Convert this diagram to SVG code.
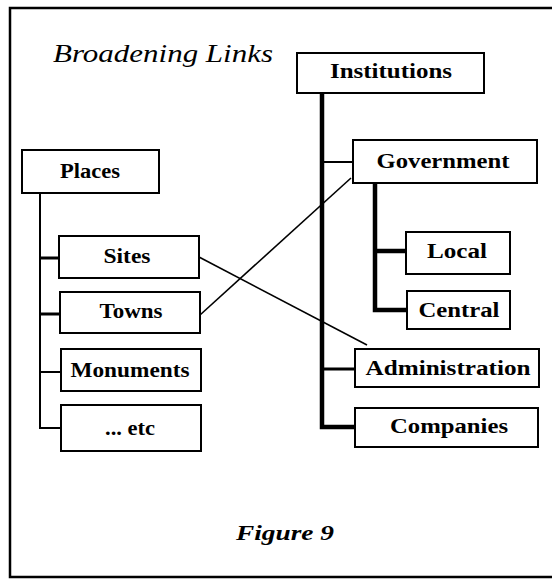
<svg xmlns="http://www.w3.org/2000/svg" width="552" height="579" viewBox="0 0 552 579">
<style>
.box{fill:#fff;stroke:#000;stroke-width:2}
.lbl{font-family:"Liberation Serif",serif;font-weight:bold;font-size:20px;fill:#000}
.thin{stroke:#000;stroke-width:2;fill:none}
.thick{stroke:#000;stroke-width:4.5;fill:none}
.med{stroke:#000;stroke-width:3;fill:none}
.x{stroke:#000;stroke-width:1.6;fill:none}
</style>
<rect width="552" height="579" fill="#fff"/>
<path d="M552,8 H10 V577 H552" fill="none" stroke="#000" stroke-width="2.5"/>
<text x="53" y="62" font-family="Liberation Serif,serif" font-style="italic" font-size="26" textLength="220" lengthAdjust="spacingAndGlyphs">Broadening Links</text>
<text x="236" y="540" font-family="Liberation Serif,serif" font-style="italic" font-weight="bold" font-size="21" textLength="98" lengthAdjust="spacingAndGlyphs">Figure 9</text>
<g id="connectors">
<path class="thin" d="M40,193 V428 H61"/>
<path class="med" d="M40,258 H59"/>
<path class="med" d="M40,314 H60"/>
<path class="thin" d="M40,372 H61"/>
<path class="thick" d="M322,93 V427 H355"/>
<path class="thin" d="M322,162 H353"/>
<path class="med" d="M322,369 H355"/>
<path class="thick" d="M375,183 V310 H407"/>
<path class="thick" d="M375,251 H406"/>
<path class="x" d="M199,257 L367,345"/>
<path class="x" d="M200,315 L351,178"/>
</g>
<g id="places"><rect class="box" x="22" y="150" width="137" height="43"/><text class="lbl" x="90" y="178" text-anchor="middle" textLength="60" lengthAdjust="spacingAndGlyphs">Places</text></g>
<g id="sites"><rect class="box" x="59" y="236" width="140" height="42"/><text class="lbl" x="127" y="263" text-anchor="middle" textLength="47" lengthAdjust="spacingAndGlyphs">Sites</text></g>
<g id="towns"><rect class="box" x="60" y="292" width="140" height="41"/><text class="lbl" x="131" y="318" text-anchor="middle" textLength="63" lengthAdjust="spacingAndGlyphs">Towns</text></g>
<g id="monuments"><rect class="box" x="61" y="349" width="140" height="42"/><text class="lbl" x="130" y="377" text-anchor="middle" textLength="119" lengthAdjust="spacingAndGlyphs">Monuments</text></g>
<g id="etc"><rect class="box" x="61" y="405" width="140" height="46"/><text class="lbl" x="130" y="435" text-anchor="middle" textLength="50" lengthAdjust="spacingAndGlyphs">... etc</text></g>
<g id="institutions"><rect class="box" x="297" y="53" width="187" height="40"/><text class="lbl" x="391" y="78" text-anchor="middle" textLength="122" lengthAdjust="spacingAndGlyphs">Institutions</text></g>
<g id="government"><rect class="box" x="353" y="140" width="184" height="43"/><text class="lbl" x="443" y="168" text-anchor="middle" textLength="133" lengthAdjust="spacingAndGlyphs">Government</text></g>
<g id="local"><rect class="box" x="406" y="232" width="104" height="42"/><text class="lbl" x="457" y="258" text-anchor="middle" textLength="60" lengthAdjust="spacingAndGlyphs">Local</text></g>
<g id="central"><rect class="box" x="407" y="291" width="103" height="38"/><text class="lbl" x="459" y="317" text-anchor="middle" textLength="81" lengthAdjust="spacingAndGlyphs">Central</text></g>
<g id="administration"><rect class="box" x="355" y="349" width="184" height="38"/><text class="lbl" x="448" y="375" text-anchor="middle" textLength="165" lengthAdjust="spacingAndGlyphs">Administration</text></g>
<g id="companies"><rect class="box" x="355" y="408" width="183" height="39"/><text class="lbl" x="449" y="433" text-anchor="middle" textLength="118" lengthAdjust="spacingAndGlyphs">Companies</text></g>
</svg>
